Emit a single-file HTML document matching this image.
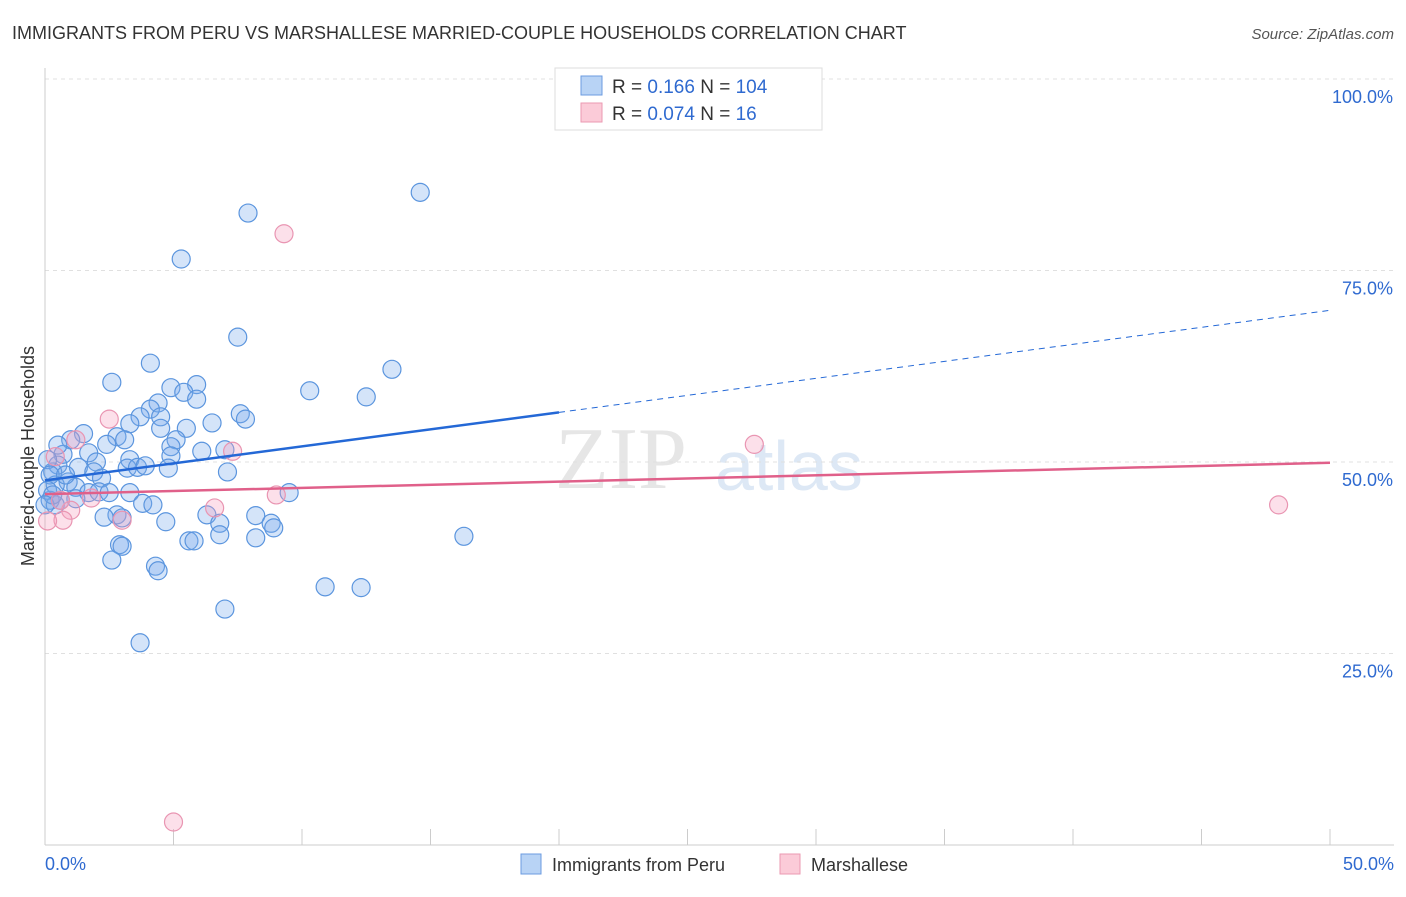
<!DOCTYPE html>
<html><head><meta charset="utf-8"><style>
body{margin:0;background:#fff;font-family:"Liberation Sans",sans-serif}
</style></head><body>
<svg width="1406" height="892" viewBox="0 0 1406 892" xmlns="http://www.w3.org/2000/svg" font-family="Liberation Sans, sans-serif">
<text x="12" y="39" font-size="18" fill="#333">IMMIGRANTS FROM PERU VS MARSHALLESE MARRIED-COUPLE HOUSEHOLDS CORRELATION CHART</text>
<text x="1394" y="39" font-size="15" fill="#555" font-style="italic" text-anchor="end">Source: ZipAtlas.com</text>
<g>
<text x="555" y="488" font-size="88" font-family="Liberation Serif, serif" fill="#e6e6e6">ZIP</text>
<text x="715" y="490" font-size="70" fill="#dde8f5">atlas</text>
</g>
<g id="grid"></g>
<g id="axes"></g>
<g id="marks"></g>
<text transform="translate(34,456) rotate(-90)" font-size="18" fill="#333" text-anchor="middle">Married-couple Households</text>
<g>
<rect x="555" y="68" width="267" height="62" fill="#fff" stroke="#ddd"/>
<rect x="581" y="76" width="21" height="19" fill="#b8d3f5" stroke="#6b9be0"/>
<rect x="581" y="103" width="21" height="19" fill="#fbcbd8" stroke="#eb9ab2"/>
<text x="612" y="93" font-size="19" fill="#333">R = <tspan fill="#2f6ad0">0.166</tspan>   N = <tspan fill="#2f6ad0">104</tspan></text>
<text x="612" y="120" font-size="19" fill="#333">R = <tspan fill="#2f6ad0">0.074</tspan>   N =   <tspan fill="#2f6ad0">16</tspan></text>
</g>
<g>
<rect x="521" y="854" width="20" height="20" fill="#b8d3f5" stroke="#6b9be0"/>
<text x="552" y="871" font-size="18" fill="#333">Immigrants from Peru</text>
<rect x="780" y="854" width="20" height="20" fill="#fbcbd8" stroke="#eb9ab2"/>
<text x="811" y="871" font-size="18" fill="#333">Marshallese</text>
</g>
</svg>
<script>
const blueX=[14.6,7.9,5.3,7.5,4.1,13.5,2.6,4.9,5.9,10.3,5.4,5.9,12.5,4.4,4.1,7.6,3.7,4.5,7.8,3.3,6.5,4.5,5.5,1.5,2.8,3.1,1.0,5.1,2.4,4.9,7.0,6.1,1.7,0.7,4.9,3.3,2.0,0.5,1.3,3.2,3.6,3.9,4.8,1.9,0.3,7.1,2.2,0.9,0.4,1.2,1.7,2.1,2.5,3.3,9.5,0.2,1.2,0.4,3.8,4.2,2.8,2.3,3.0,6.3,6.8,4.7,8.2,8.8,8.9,6.8,8.2,16.3,5.6,5.8,2.9,3.0,2.6,4.3,4.4,10.9,12.3,7.0,3.7,0.1,0.2,0.1,0.3,0.0,0.6,0.8,0.5];
const blueY=[85.2,82.5,76.5,66.3,62.9,62.1,60.4,59.7,60.1,59.3,59.1,58.2,58.5,57.7,56.9,56.3,55.9,55.9,55.6,55.0,55.1,54.4,54.4,53.7,53.3,52.9,52.9,52.9,52.3,52.0,51.6,51.4,51.2,51.0,50.8,50.3,50.0,49.6,49.3,49.2,49.3,49.5,49.2,48.7,48.7,48.7,47.9,47.4,47.0,46.7,46.0,46.1,46.0,46.0,46.0,45.0,45.2,44.4,44.6,44.4,43.1,42.8,42.7,43.1,42.0,42.2,43.0,42.0,41.4,40.5,40.1,40.3,39.7,39.7,39.2,39.0,37.2,36.4,35.8,33.7,33.6,30.8,26.4,50.3,48.3,46.3,45.7,44.4,45.0,48.3,52.2];
const pinkX=[9.3,2.5,7.3,27.6,1.2,0.4,9.0,6.6,48.0,1.0,0.7,0.1,3.0,1.8,5.0,0.6];
const pinkY=[79.8,55.6,51.4,52.3,52.9,50.7,45.7,44.0,44.4,43.7,42.4,42.3,42.4,45.3,3.0,45.0];
const blueTrend=[47.6,69.8]; // y at x=0 and x=50
const pinkTrend=[45.8,49.9];
const yTicks=[25,50,75,100];
const yTickLabels=["25.0%","50.0%","75.0%","100.0%"];
const xTicks=[0,5,10,15,20,25,30,35,40,45,50];
const NS="http://www.w3.org/2000/svg";
const sx=v=>45+v*25.7, sy=v=>845-v*7.66;
function mk(t,a,p){const e=document.createElementNS(NS,t);for(const k in a)e.setAttribute(k,a[k]);p.appendChild(e);return e;}
const grid=document.getElementById('grid'),axes=document.getElementById('axes'),marks=document.getElementById('marks');
yTicks.forEach((v,i)=>{
 const l=mk('line',{x1:45,x2:1394,y1:sy(v),y2:sy(v),stroke:'#e0e0e0','stroke-dasharray':'4,4'},grid);
 
 
 const t=mk('text',{x:1393,y:sy(v)+24,'font-size':18,fill:'#2f6ad0','text-anchor':'end'},axes);t.textContent=yTickLabels[i];
 
 
});
mk('line',{x1:45,x2:1394,y1:sy(100),y2:sy(100),stroke:'#e0e0e0','stroke-dasharray':'4,4'},grid);
const ya=mk('line',{x1:45,x2:45,y1:68,y2:845,stroke:'#ccc'},axes);


const xa=mk('line',{x1:45,x2:1394,y1:845,y2:845,stroke:'#ccc'},axes);


xTicks.forEach(v=>{const t=mk('line',{x1:sx(v),x2:sx(v),y1:829,y2:845,stroke:'#ccc'},axes);
 
 });
[["0.0%",45,'start'],["50.0%",1394,'end']].forEach(d=>{const t=mk('text',{x:d[1],y:870,'font-size':18,fill:'#2f6ad0','text-anchor':d[2]},axes);t.textContent=d[0];
 
 });
function dots(X,Y,fill,stroke,name){X.forEach((x,i)=>{const c=mk('circle',{cx:sx(x),cy:sy(Y[i]),r:9,fill:fill,stroke:stroke,'stroke-width':1.2},marks);
 
 });}
dots(blueX,blueY,'rgba(120,170,235,0.32)','#5b95de','peru-point');
dots(pinkX,pinkY,'rgba(245,160,190,0.32)','#e995b2','marshallese-point');
const bt=x=>blueTrend[0]+(blueTrend[1]-blueTrend[0])*x/50;
const l1=mk('line',{x1:sx(0),y1:sy(bt(0)),x2:sx(20),y2:sy(bt(20)),stroke:'#2468d6','stroke-width':2.5},marks);


const l2=mk('line',{x1:sx(20),y1:sy(bt(20)),x2:sx(50),y2:sy(bt(50)),stroke:'#2468d6','stroke-width':1,'stroke-dasharray':'6,5'},marks);


const l3=mk('line',{x1:sx(0),y1:sy(pinkTrend[0]),x2:sx(50),y2:sy(pinkTrend[1]),stroke:'#e0608a','stroke-width':2.5},marks);


</script>
</body></html>
